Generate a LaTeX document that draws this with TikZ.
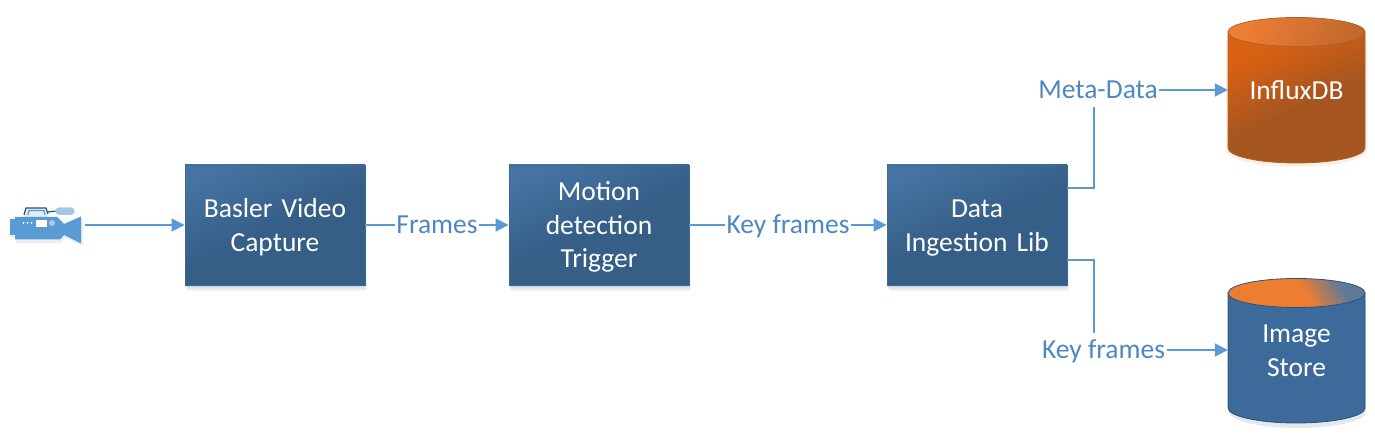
\documentclass[tikz,border=0pt]{standalone}
\usepackage{fontspec}
\setmainfont{Carlito}
\usetikzlibrary{arrows.meta,shadows,calc}
\definecolor{linkblue}{HTML}{5B9BD5}
\definecolor{labelblue}{HTML}{4E88C0}
\definecolor{boxlight}{HTML}{4674A3}
\definecolor{boxdark}{HTML}{365F88}
\definecolor{boxedge}{HTML}{3F6A92}
\definecolor{orA}{HTML}{D96113}
\definecolor{orB}{HTML}{A55520}
\definecolor{orEdge}{HTML}{B0602A}
\definecolor{orTopA}{HTML}{EE7E35}
\definecolor{orTopB}{HTML}{C2692E}
\definecolor{cylblue}{HTML}{3C6B9B}
\definecolor{cylEdge}{HTML}{2F5375}
\definecolor{cylTop}{HTML}{ED7D31}
\definecolor{cylGrey}{HTML}{5F7A97}
\pgfdeclareverticalshading{cyltopshade}{100bp}{color(0bp)=(cylTop); color(25bp)=(cylTop); color(54bp)=(cylTop); color(72bp)=(cylGrey); color(100bp)=(cylGrey)}
\pgfdeclareverticalshading{boxshade}{100bp}{color(0bp)=(boxdark); color(50bp)=(boxdark); color(78bp)=(boxlight); color(100bp)=(boxlight)}
\pgfdeclareverticalshading{orbodyshade}{100bp}{color(0bp)=(orB); color(46bp)=(orB); color(72bp)=(orA); color(100bp)=(orA)}
\tikzset{
  softshadow/.style={
    general shadow={fill=boxdark,opacity=.07,shadow xshift=1.5pt,shadow yshift=-5.5pt},
    general shadow={fill=boxdark,opacity=.09,shadow xshift=1pt,shadow yshift=-3.5pt},
    general shadow={fill=boxdark,opacity=.12,shadow xshift=.5pt,shadow yshift=-2pt}},
  evenlines/.style={execute at begin node={\rule{0pt}{25pt}},execute at end node={\rule[-6pt]{0pt}{0pt}}},
  procbox/.style={draw=boxedge,line width=.9pt,minimum width=180pt,minimum height=120pt,
    text width=170pt,align=center,text=white,font=\fontsize{27.5}{33.5}\selectfont,evenlines,
    shading=boxshade,shading angle=25,softshadow},
  flowlabel/.style={font=\fontsize{27.5}{30}\selectfont,text=labelblue,inner xsep=1.5pt,inner ysep=3pt,
    text height=22.3pt,text depth=5.7pt},
  link/.style={draw=linkblue,line width=1.8pt},
  linkarrow/.style={link,-{Triangle[length=13pt,width=13pt]}},
  cyltext/.style={minimum width=137pt,minimum height=30pt,inner sep=0pt,text width=137pt,align=center,text=white,
    font=\fontsize{27.5}{33.5}\selectfont,evenlines}
}
\begin{document}
\begin{tikzpicture}[x=1pt,y=-1pt]
\useasboundingbox (0,0) rectangle (1375,446);
% camera
\fill[boxdark,opacity=.10] (11,222) -- (16,222) -- (16,220) -- (58,220) -- (65,227) -- (83,219) -- (83,246) -- (65,238) -- (61,243) -- (16,243) -- (16,238) -- (11,238) -- cycle;
\fill[linkblue!18] (24,217) -- (26,208) -- (46,208) -- (48,217) -- cycle;
\draw[draw=cylEdge,line width=1.2pt] (24,215) -- (26,208) -- (46,208) -- (48,214);
\draw[draw=linkblue,line width=1.2pt] (28,215) -- (29,210.5) -- (44,210.5) -- (45,215);
\draw[draw=cylEdge,line width=1.2pt] (47,212) -- (57,211);
\fill[fill=linkblue!55] (59,207.5) rectangle (71,215) (59,211.2) circle[radius=3.75pt] (71,211.2) circle[radius=3.75pt];
\fill[fill=linkblue] (10,219) -- (15,219) -- (15,217) -- (57,217) -- (64,224) -- (81,216.5) -- (81,243.5) -- (64,235) -- (60,239.5) -- (15,239.5) -- (15,235) -- (10,235) -- cycle;
\fill[white] (36,220) rectangle (46.5,227.5);
\fill[linkblue!50] (52,223) circle[radius=3pt];
\fill[white] (23.5,223) circle[radius=1pt] (27.5,223) circle[radius=1pt] (31.5,223) circle[radius=1pt];
\node[minimum width=78pt,minimum height=40pt,inner sep=0pt] (cam) at (46,225) {};
% boxes
\node[procbox] (basler) at (275,225) {Basler Video\\Capture};
\node[procbox] (motion) at (599,225) {Motion\\detection\\Trigger};
\node[procbox] (ingest) at (977,225) {Data\\Ingestion Lib};
% cylinder 1
\fill[orTopA,opacity=.12] (1226,40) -- (1226,150) arc[start angle=180,end angle=360,x radius=70.5pt,y radius=17pt] -- (1367,40) -- cycle;
\shade[draw=orEdge,line width=.8pt,shading=orbodyshade,shading angle=25]
  (1228,32) -- (1228,148) arc[start angle=180,end angle=360,x radius=68.5pt,y radius=15pt] -- (1365,32) -- cycle;
\shade[draw=orEdge,line width=.8pt,top color=orTopA,bottom color=orTopB,shading angle=65]
  (1296.5,32) ellipse[x radius=68.5pt,y radius=14.5pt];
\node[cyltext] (influx) at (1296.5,90) {InfluxDB};
% cylinder 2
\fill[boxdark,opacity=.14] (1229,300) -- (1229,412) arc[start angle=180,end angle=360,x radius=68.5pt,y radius=16pt] -- (1366,300) -- cycle;
\fill[draw=cylEdge,line width=.8pt,fill=cylblue]
  (1228,293) -- (1228,408) arc[start angle=180,end angle=360,x radius=68.5pt,y radius=15pt] -- (1365,293) -- cycle;
\shade[draw=cylEdge,line width=.8pt,shading=cyltopshade,shading angle=-60]
  (1296.5,293) ellipse[x radius=68.5pt,y radius=14.5pt];
\node[cyltext] (store) at (1296.5,350) {Image\\Store};
% labels
\node[flowlabel] (frames) at (437,225) {Frames};
\node[flowlabel] (keyA) at (788,225) {Key frames};
\node[flowlabel] (meta) at (1098,90) {Meta-Data};
\node[flowlabel] (keyB) at (1103.5,350) {Key frames};
% connectors
\draw[linkarrow] (cam.east) -- (basler.west);
\draw[link] (basler.east) -- (frames.west);
\draw[linkarrow] (frames.east) -- (motion.west);
\draw[link] (motion.east) -- (keyA.west);
\draw[linkarrow] (keyA.east) -- (ingest.west);
\draw[link] ([yshift=37pt]ingest.east) -| ([xshift=-4pt]meta.south);
\draw[linkarrow] (meta.east) -- (influx.west);
\draw[link] ([yshift=-35pt]ingest.east) -| ([xshift=-9.5pt]keyB.north);
\draw[linkarrow] (keyB.east) -- (store.west);
\end{tikzpicture}
\end{document}
